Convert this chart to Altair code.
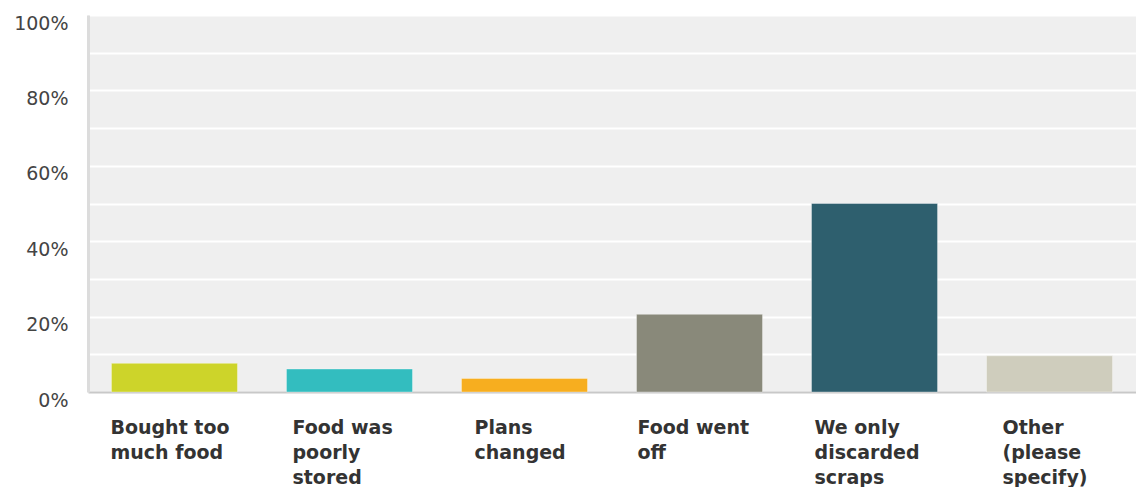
import altair as alt
import pandas as pd

categories = [
    "Bought too\nmuch food",
    "Food was\npoorly\nstored",
    "Plans\nchanged",
    "Food went\noff",
    "We only\ndiscarded\nscraps",
    "Other\n(please\nspecify)",
]
values = [0.076, 0.061, 0.036, 0.206, 0.500, 0.096]
colors = ["#cdd42a", "#33bdbf", "#f7ae1f", "#89897a", "#2e5f6e", "#cfcdbd"]
y_ticks = [0, 0.1, 0.2, 0.3, 0.4, 0.5, 0.6, 0.7, 0.8, 0.9, 1.0]

# label blocks are centred under each bar, lines left-aligned inside the block
label_shift = [-64, -57, -50, -62, -60, -47]

df = pd.DataFrame({"category": categories, "value": values})

offset_conditions = [
    {"test": "datum.value == " + repr(c).replace("'", '"').replace('"', "'", 0), "value": s}
    for c, s in zip(categories, label_shift)
]
# build tests safely using JSON-ish escapes
import json
offset_conditions = [
    {"test": "datum.value == " + json.dumps(c), "value": s}
    for c, s in zip(categories, label_shift)
]

chart = (
    alt.Chart(df)
    .mark_bar(stroke="#ffffff", strokeWidth=1, strokeOpacity=0.35)
    .encode(
        x=alt.X(
            "category:N",
            sort=categories,
            scale=alt.Scale(paddingInner=0.28, paddingOuter=0.134),
            axis=alt.Axis(
                title=None,
                labelAngle=0,
                labelAlign="left",
                labelBaseline="top",
                labelOffset={"condition": offset_conditions, "value": -60},
                labelPadding=26,
                labelExpr="split(datum.label, '\\n')",
                labelFont="DejaVu Sans",
                labelFontWeight="bold",
                labelFontSize=19,
                labelColor="#333333",
                labelLineHeight=25,
                labelOverlap=False,
                labelLimit=0,
                ticks=False,
                grid=False,
                domainColor="#c8c8c8",
                domainWidth=2,
            ),
        ),
        y=alt.Y(
            "value:Q",
            scale=alt.Scale(domain=[0, 1], nice=False),
            axis=alt.Axis(
                title=None,
                values=y_ticks,
                format=".0%",
                labelExpr="round(datum.value * 10) % 2 == 0 ? datum.label : ''",
                ticks=False,
                labelPadding=20,
                labelOffset=8,
                labelFont="DejaVu Sans",
                labelFontSize=19,
                labelColor="#444444",
                grid=True,
                gridColor="#ffffff",
                gridWidth=2,
                domainColor="#dcdcdc",
                domainWidth=3,
            ),
        ),
        color=alt.Color(
            "category:N",
            sort=categories,
            scale=alt.Scale(domain=categories, range=colors),
            legend=None,
        ),
    )
    .properties(
        width=1048,
        height=377,
        autosize=alt.AutoSizeParams(type="none"),
        padding={"left": 88, "top": 15, "right": 0, "bottom": 95},
        background="#ffffff",
    )
    .configure_view(fill="#efefef", stroke=None)
)

chart.save("out.html", embed_options={"renderer": "svg", "actions": False})
